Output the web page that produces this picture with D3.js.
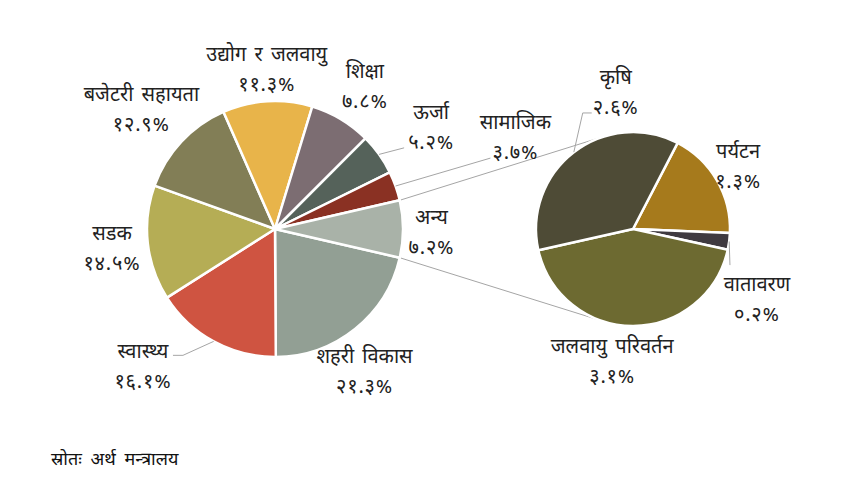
<!DOCTYPE html>
<html>
<head>
<meta charset="utf-8">
<script src="https://cdn.jsdelivr.net/npm/d3@7"></script>
<style>
  body { margin: 0; background: #fff; }
  text { font-family: "Noto Sans Devanagari", "Lohit Devanagari", "Noto Sans", "FreeSans", sans-serif; fill: #222; }
</style>
</head>
<body>
<svg id="chart" width="863" height="485"></svg>
<script>
// main pie, clockwise, starting right after "अन्य"
var mainCategories = ["शहरी विकास", "स्वास्थ्य", "सडक", "बजेटरी सहायता", "उद्योग र जलवायु", "शिक्षा", "ऊर्जा", "सामाजिक", "अन्य"];
var mainValues = [21.3, 16.1, 14.5, 12.9, 11.3, 7.8, 5.2, 3.7, 7.2];
var mainColors = ["#929f94", "#cf5441", "#b5ad55", "#827e56", "#e8b44a", "#7c6d72", "#55625a", "#8a3123", "#a9b2a8"];

// breakdown of "अन्य"
var subCategories = ["पर्यटन", "वातावरण", "जलवायु परिवर्तन", "कृषि"];
var subValues = [1.3, 0.2, 3.1, 2.6];
var subColors = ["#a67a1c", "#3f3a40", "#6d6a31", "#4e4b36"];

var svg = d3.select("#chart");
svg.append("rect").attr("width", 863).attr("height", 485).attr("fill", "#fff");

// devanagari digits for the labels
var devDigits = "०१२३४५६७८९";
function toDev(v){
	return v.toFixed(1).replace(/[0-9]/g, function(d){ return devDigits[+d]; }) + "%";
}

var deg = Math.PI / 180;
var mainC = { x: 275, y: 229, r: 128 };
var subC = { x: 633, y: 229, r: 97 };

// "अन्य" (last slice) is centred on 3 o'clock
var otherShare = mainValues[mainValues.length - 1] / d3.sum(mainValues);
var mainStart = 90 * deg + otherShare * Math.PI;

var mainPie = d3.pie().sort(null).startAngle(mainStart).endAngle(mainStart + 2 * Math.PI);
var mainArcs = mainPie(mainValues);
var subPie = d3.pie().sort(null).startAngle(27.4 * deg).endAngle(27.4 * deg + 2 * Math.PI);
var subArcs = subPie(subValues);

var mainArc = d3.arc().innerRadius(0).outerRadius(mainC.r);
var subArc = d3.arc().innerRadius(0).outerRadius(subC.r);

function polar(c, r, a){ return [c.x + r * Math.sin(a), c.y - r * Math.cos(a)]; }

// connector lines from the "अन्य" slice to the second pie (tangents)
var otherArc = mainArcs[mainArcs.length - 1];
function tangent(p, upper){
	var dx = p[0] - subC.x, dy = p[1] - subC.y;
	var d = Math.sqrt(dx * dx + dy * dy);
	var th = Math.atan2(dy, dx);
	var al = Math.acos(subC.r / d);
	var t1 = [subC.x + subC.r * Math.cos(th + al), subC.y + subC.r * Math.sin(th + al)];
	var t2 = [subC.x + subC.r * Math.cos(th - al), subC.y + subC.r * Math.sin(th - al)];
	if (upper) return t1[1] < t2[1] ? t1 : t2;
	return t1[1] > t2[1] ? t1 : t2;
}
var pTop = polar(mainC, mainC.r, otherArc.startAngle);
var pBot = polar(mainC, mainC.r, otherArc.endAngle);
[[pTop, tangent(pTop, true)], [pBot, tangent(pBot, false)]].forEach(function(seg){
	svg.append("line")
		.attr("x1", seg[0][0]).attr("y1", seg[0][1])
		.attr("x2", seg[1][0]).attr("y2", seg[1][1])
		.attr("stroke", "#a5a5a5").attr("stroke-width", 1);
});

var gMain = svg.append("g").attr("transform", "translate(" + mainC.x + "," + mainC.y + ")");
gMain.selectAll("path").data(mainArcs).enter().append("path")
	.attr("d", mainArc)
	.attr("fill", function(d, i){ return mainColors[i]; })
	.attr("stroke", "#fff").attr("stroke-width", 2.5).attr("stroke-linejoin", "round");

var gSub = svg.append("g").attr("transform", "translate(" + subC.x + "," + subC.y + ")");
gSub.selectAll("path").data(subArcs).enter().append("path")
	.attr("d", subArc)
	.attr("fill", function(d, i){ return subColors[i]; })
	.attr("stroke", "#fff").attr("stroke-width", 2.5).attr("stroke-linejoin", "round");

// label placement: centroid at a label radius plus a nudge
var mainNudge = [[-13.6, 20], [-53, -1], [1, 8], [-13, -0.5], [1.6, 11.7], [5, 5], [22, 1], [85, -30], [-8.5, 9.5]];
var subNudge = [[-3, 7], [0, 61], [-21, 14.5], [59, -31]];
// leader lines, as offsets from the label anchor
var mainLeaders = { 1: [[40, -17.5], [30, -17.5]], 6: [[-27, 14]], 7: [[-25, 14.5]] };
var subLeaders = { 1: [[-27, -41]], 3: [[-33, 14], [-24, 14]] };

function drawLabels(arcs, cats, vals, c, lr, nudge, leaders){
	arcs.forEach(function(d, i){
		var mid = (d.startAngle + d.endAngle) / 2;
		var p = polar(c, lr, mid);
		var x = p[0] + nudge[i][0], y = p[1] + nudge[i][1];
		if (leaders[i]){
			var pts = [polar(c, c.r, mid)].concat(leaders[i].map(function(o){ return [x + o[0], y + o[1]]; }));
			svg.append("path")
				.attr("d", d3.line()(pts))
				.attr("fill", "none").attr("stroke", "#a5a5a5").attr("stroke-width", 1);
		}
		var t = svg.append("text").attr("text-anchor", "middle").style("font-size", "20px");
		t.append("tspan").attr("x", x).attr("y", y - 15).style("word-spacing", "3px").text(cats[i]);
		t.append("tspan").attr("x", x).attr("y", y + 15).style("letter-spacing", "0.8px").text(toDev(vals[i]));
	});
}
drawLabels(mainArcs, mainCategories, mainValues, mainC, 165, mainNudge, mainLeaders);
drawLabels(subArcs, subCategories, subValues, subC, 125, subNudge, subLeaders);

svg.append("text").attr("x", 51).attr("y", 465)
	.style("font-size", "18px").style("word-spacing", "4px").style("fill", "#111")
	.text("स्रोतः अर्थ मन्त्रालय");
</script>
</body>
</html>
